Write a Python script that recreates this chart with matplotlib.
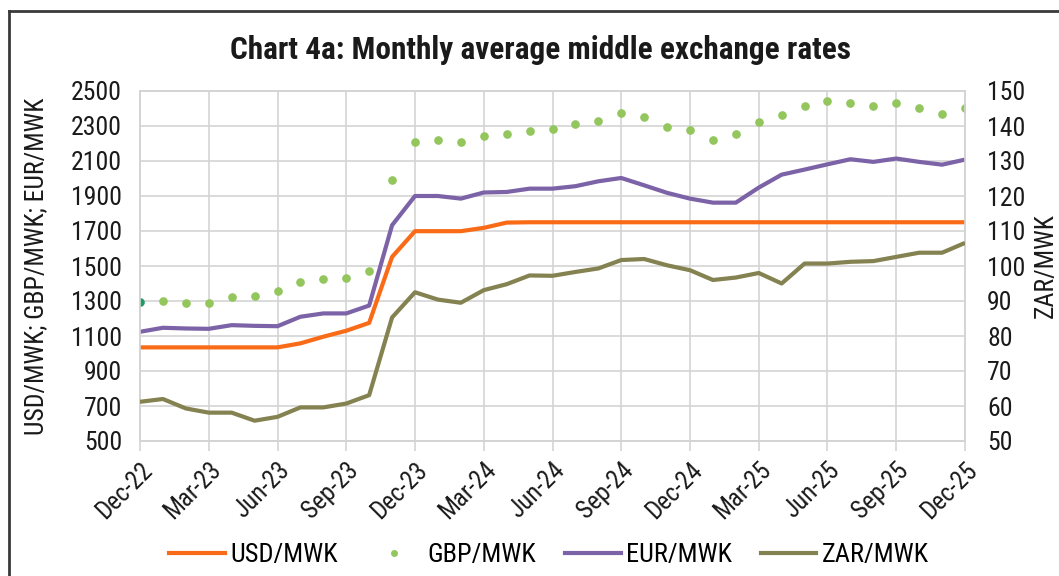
import matplotlib
matplotlib.use("Agg")
import matplotlib.pyplot as plt
from matplotlib.lines import Line2D
import numpy as np

# ---- data ----
month_labels = ["Dec-22", "Mar-23", "Jun-23", "Sep-23", "Dec-23", "Mar-24", "Jun-24",
                "Sep-24", "Dec-24", "Mar-25", "Jun-25", "Sep-25", "Dec-25"]
usd = [1035, 1035, 1035, 1035, 1035, 1035, 1035, 1058, 1096, 1130, 1175, 1552, 1699,
       1699, 1699, 1718, 1748, 1750, 1750, 1750, 1750, 1750, 1750, 1750, 1750, 1750,
       1750, 1750, 1750, 1750, 1750, 1750, 1750, 1750, 1750, 1750, 1750]
gbp = [1295, 1301, 1286, 1290, 1322, 1326, 1356, 1408, 1427, 1432, 1474, 1992, 2209,
       2220, 2207, 2243, 2255, 2272, 2285, 2312, 2329, 2376, 2352, 2293, 2275, 2222,
       2256, 2325, 2361, 2414, 2441, 2431, 2416, 2431, 2405, 2367, 2405]
eur = [1124, 1147, 1143, 1141, 1162, 1158, 1156, 1210, 1229, 1229, 1274, 1733, 1900,
       1900, 1885, 1920, 1923, 1942, 1942, 1956, 1984, 2003, 1961, 1918, 1885, 1862,
       1862, 1948, 2022, 2051, 2081, 2110, 2095, 2114, 2095, 2079, 2108]
zar = [61.2, 62.0, 59.3, 58.1, 58.1, 55.8, 56.9, 59.6, 59.6, 60.7, 63.1, 85.3, 92.5,
       90.4, 89.5, 93.1, 94.8, 97.3, 97.2, 98.3, 99.3, 101.7, 102.0, 100.2, 98.8, 96.0,
       96.7, 98.0, 95.0, 100.7, 100.7, 101.2, 101.4, 102.6, 103.8, 103.8, 106.6]

import matplotlib.font_manager as fm
_avail = {f.name for f in fm.fontManager.ttflist}
_pref = ['Roboto Condensed', 'Liberation Sans Narrow', 'Open Sans Condensed', 'Roboto']
FONT = [f for f in _pref if f in _avail][:1] + ['DejaVu Sans']
plt.rcParams['font.family'] = FONT

c_usd = '#f96b17'
c_gbp = '#93c65c'
c_gbp0 = '#1e9a62'
c_eur = '#7c62a6'
c_zar = '#838250'
c_grid = '#d4d4d4'
c_txt = '#1a1a1a'

x = np.arange(len(usd))

fig = plt.figure(figsize=(10.59, 5.76), dpi=100)
ax = fig.add_axes([140/1059, 1-441/576, (965-140)/1059, (441-91)/576])
ax2 = ax.twinx()

ax.plot(x, usd, color=c_usd, lw=3.0, solid_capstyle='butt', zorder=3)
ax.plot(x[1:], gbp[1:], linestyle='none', marker='o', ms=5.2, color=c_gbp, zorder=3)
ax.plot(x[:1], gbp[:1], linestyle='none', marker='o', ms=5.2, color=c_gbp0, zorder=3)
ax.plot(x, eur, color=c_eur, lw=3.0, solid_capstyle='butt', zorder=3)
ax2.plot(x, zar, color=c_zar, lw=3.0, solid_capstyle='butt', zorder=3)

ax.set_xlim(0, 36)
ax.set_ylim(500, 2500)
ax2.set_ylim(50, 150)
ax.set_yticks(np.arange(500, 2501, 200))
ax2.set_yticks(np.arange(50, 151, 10))
ax.set_xticks(np.arange(0, 37, 3))
ax.set_xticklabels(month_labels, rotation=45, ha='right', va='top', rotation_mode='anchor')

ax.grid(True, color=c_grid, lw=1.2)
ax.set_axisbelow(True)
for a in (ax, ax2):
    for s in a.spines.values():
        s.set_color(c_grid)
        s.set_linewidth(1.2)

ax.tick_params(axis='y', length=0, pad=13, labelsize=18.5, colors=c_txt)
ax2.tick_params(axis='y', length=0, pad=16, labelsize=18.5, colors=c_txt)
ax.tick_params(axis='x', length=7, width=1.2, color=c_grid, pad=5, labelsize=18, colors=c_txt)

ax.set_ylabel('USD/MWK; GBP/MWK; EUR/MWK', fontsize=18.5, color=c_txt)
ax2.set_ylabel('ZAR/MWK', fontsize=18.5, color=c_txt)
ax.yaxis.set_label_coords(-0.1115, 0.5)
ax2.yaxis.set_label_coords(1.083, 0.5)

fig.text(540/1059, 1-50/576, 'Chart 4a: Monthly average middle exchange rates',
         ha='center', va='center', fontsize=22.5, fontweight='bold', color=c_txt)

handles = [Line2D([], [], color=c_usd, lw=3.0),
           Line2D([], [], color=c_gbp, marker='o', ms=4, linestyle='none'),
           Line2D([], [], color=c_eur, lw=3.0),
           Line2D([], [], color=c_zar, lw=3.0)]
labels = ['USD/MWK', 'GBP/MWK', 'EUR/MWK', 'ZAR/MWK']
fig.legend(handles, labels, loc='center', bbox_to_anchor=(549/1059, 1-555/576),
           ncol=4, frameon=False, fontsize=19, handlelength=2.1, handletextpad=0.2,
           columnspacing=1.1, numpoints=1)

# outer frame (top and left edges)
fig.add_artist(Line2D([9/1059, 1], [1-11/576, 1-11/576], color='#3a3a3a', lw=2.0,
                      transform=fig.transFigure))
fig.add_artist(Line2D([9/1059, 9/1059], [0, 1-11/576], color='#3a3a3a', lw=2.0,
                      transform=fig.transFigure))

fig.savefig('out.png', dpi=100)
